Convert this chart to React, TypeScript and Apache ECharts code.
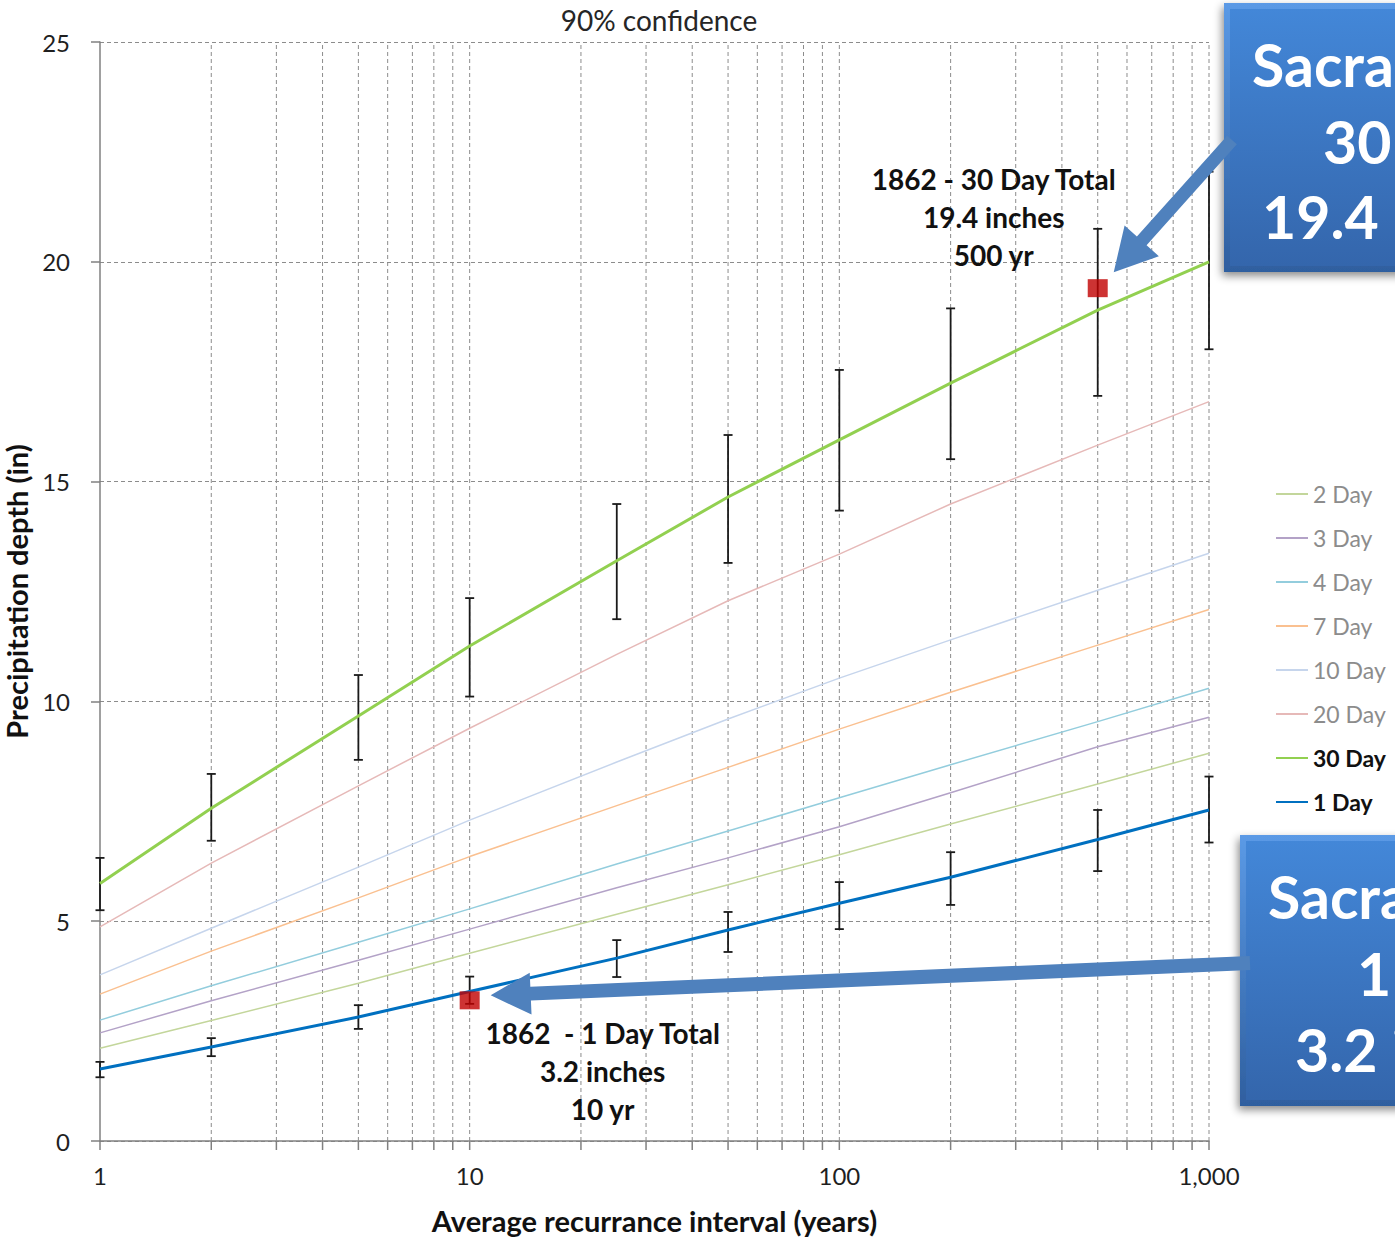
import React, { useEffect, useRef } from "react";
import * as echarts from "echarts";

// Return periods (years) at which depths and confidence limits are tabulated
const returnPeriods = [1, 2, 5, 10, 25, 50, 100, 200, 500, 1000];

// Precipitation depth (inches) by storm duration
const day1 = [1.64, 2.14, 2.82, 3.4, 4.16, 4.8, 5.41, 6.0, 6.86, 7.53];
const day2 = [2.11, 2.74, 3.59, 4.27, 5.16, 5.83, 6.51, 7.21, 8.12, 8.82];
const day3 = [2.46, 3.19, 4.11, 4.82, 5.76, 6.44, 7.15, 7.92, 8.97, 9.64];
const day4 = [2.75, 3.53, 4.52, 5.28, 6.3, 7.05, 7.81, 8.56, 9.54, 10.3];
const day7 = [3.34, 4.32, 5.53, 6.47, 7.63, 8.5, 9.37, 10.21, 11.28, 12.09];
const day10 = [3.78, 4.84, 6.23, 7.3, 8.62, 9.6, 10.53, 11.4, 12.53, 13.37];
const day20 = [4.87, 6.32, 8.08, 9.39, 11.07, 12.29, 13.35, 14.49, 15.83, 16.82];
const day30 = [5.86, 7.57, 9.67, 11.26, 13.2, 14.65, 15.95, 17.24, 18.9, 20.0];

// 90% confidence limits
const day1Low = [1.45, 1.93, 2.55, 3.12, 3.73, 4.3, 4.82, 5.37, 6.14, 6.79];
const day1High = [1.8, 2.34, 3.09, 3.74, 4.57, 5.21, 5.89, 6.57, 7.53, 8.29];
const day30Low = [5.25, 6.83, 8.67, 10.11, 11.87, 13.15, 14.34, 15.51, 16.95, 18.01];
const day30High = [6.44, 8.35, 10.6, 12.35, 14.49, 16.06, 17.54, 18.94, 20.75, 22.05];

// Observed 1862 storm totals: [return period, depth]
const storm1862Day1 = [10, 3.2];
const storm1862Day30 = [500, 19.4];

// Log-axis grid positions (2..9, 20..90, 200..900 and the decades)
const xGridValues = [
  1, 2, 3, 4, 5, 6, 7, 8, 9, 10, 20, 30, 40, 50, 60, 70, 80, 90, 100, 200, 300,
  400, 500, 600, 700, 800, 900, 1000,
];
const xTickLabels: Record<number, string> = { 1: "1", 10: "10", 100: "100", 1000: "1,000" };
const yTicks = { min: 0, max: 25, interval: 5 };

const seriesDefs = [
  { name: "2 Day", data: day2, color: "#c3d69b", width: 1.5, bold: false },
  { name: "3 Day", data: day3, color: "#b3a2c7", width: 1.5, bold: false },
  { name: "4 Day", data: day4, color: "#93cddd", width: 1.5, bold: false },
  { name: "7 Day", data: day7, color: "#fac090", width: 1.5, bold: false },
  { name: "10 Day", data: day10, color: "#c6d5ec", width: 1.5, bold: false },
  { name: "20 Day", data: day20, color: "#e6b9b8", width: 1.5, bold: false },
  { name: "30 Day", data: day30, color: "#92d050", width: 3, bold: true },
  { name: "1 Day", data: day1, color: "#0070c0", width: 3, bold: true },
];

const FONT = "Lato, 'Open Sans', sans-serif";
const GRID_COLOR = "#8c8c8c";
const AXIS_COLOR = "#808080";
const HIDDEN = "rgba(0,0,0,0)";

function arrowPoints(
  tail: number[],
  tip: number[],
  shaft: number,
  headLen: number,
  headW: number
) {
  const dx = tip[0] - tail[0];
  const dy = tip[1] - tail[1];
  const len = Math.hypot(dx, dy);
  const ux = dx / len;
  const uy = dy / len;
  const nx = -uy;
  const ny = ux;
  const bx = tip[0] - ux * headLen;
  const by = tip[1] - uy * headLen;
  const s = shaft / 2;
  const h = headW / 2;
  return [
    [tail[0] + nx * s, tail[1] + ny * s],
    [bx + nx * s, by + ny * s],
    [bx + nx * h, by + ny * h],
    [tip[0], tip[1]],
    [bx - nx * h, by - ny * h],
    [bx - nx * s, by - ny * s],
    [tail[0] - nx * s, tail[1] - ny * s],
  ];
}

function calloutBox(x: number, y: number, w: number, h: number, lines: { text: string; x: number; y: number }[]) {
  return {
    type: "group",
    z: 100,
    children: [
      {
        type: "rect",
        shape: { x, y, width: w, height: h },
        style: {
          fill: new echarts.graphic.LinearGradient(0, 0, 0, 1, [
            { offset: 0, color: "#5b9ae6" },
            { offset: 1, color: "#2f5f9f" },
          ]),
          shadowBlur: 8,
          shadowOffsetX: -2,
          shadowOffsetY: 4,
          shadowColor: "rgba(0,0,0,0.45)",
        },
      },
      {
        type: "rect",
        shape: { x: x + 6, y: y + 6, width: w - 12, height: h - 12 },
        style: {
          fill: new echarts.graphic.LinearGradient(0, 0, 0, 1, [
            { offset: 0, color: "#4387d8" },
            { offset: 1, color: "#3466ac" },
          ]),
        },
      },
      ...lines.map((l) => ({
        type: "text",
        style: {
          text: l.text,
          x: l.x,
          y: l.y,
          fill: "#ffffff",
          font: `bold 59px ${FONT}`,
          textAlign: "left",
          textVerticalAlign: "middle",
        },
      })),
    ],
  };
}

export default function App() {
  const ref = useRef<HTMLDivElement>(null);

  useEffect(() => {
    document.body.style.margin = "0";
    const chart = echarts.init(ref.current!, null, { renderer: "svg" });

    const lineSeries = seriesDefs.map((d) => ({
      name: d.name,
      type: "line",
      data: returnPeriods.map((p, i) => [p, d.data[i]]),
      symbol: "none",
      smooth: false,
      z: d.bold ? 5 : 3,
      lineStyle: { color: d.color, width: d.width },
      itemStyle: { color: d.color },
      silent: true,
    }));

    const errorData = [
      ...returnPeriods.map((p, i) => [p, day30Low[i], day30High[i]]),
      ...returnPeriods.map((p, i) => [p, day1Low[i], day1High[i]]),
    ];

    const option: any = {
      animation: false,
      backgroundColor: "#ffffff",
      textStyle: { fontFamily: FONT },
      title: {
        text: "90% confidence",
        left: 654,
        top: 1,
        textAlign: "center",
        textStyle: { fontFamily: FONT, fontWeight: "normal", fontSize: 28, color: "#262626" },
      },
      grid: { left: 100, right: 186, top: 42, bottom: 100, containLabel: false, outerBoundsMode: "none" },
      xAxis: {
        type: "log",
        logBase: 10,
        min: 1,
        max: 1000,
        name: "Average recurrance interval (years)",
        nameLocation: "middle",
        nameGap: 65,
        nameTextStyle: { fontFamily: FONT, fontWeight: "bold", fontSize: 29, color: "#111" },
        axisLine: { show: true, lineStyle: { color: AXIS_COLOR, width: 1.5 } },
        axisTick: { show: false },
        minorTick: { show: false },
        splitLine: { show: false },
        axisLabel: {
          margin: 22,
          fontFamily: FONT,
          fontSize: 24,
          color: "#1f1f1f",
          formatter: (v: number) => xTickLabels[Math.round(v)] ?? "",
        },
      },
      yAxis: {
        type: "value",
        min: yTicks.min,
        max: yTicks.max,
        interval: yTicks.interval,
        name: "Precipitation depth (in)",
        nameLocation: "middle",
        nameGap: 64,
        nameRotate: 90,
        nameTextStyle: { fontFamily: FONT, fontWeight: "bold", fontSize: 29, color: "#111" },
        axisLine: { show: true, lineStyle: { color: AXIS_COLOR, width: 1.5 } },
        axisTick: { show: true, length: 9, lineStyle: { color: AXIS_COLOR, width: 1.5 } },
        splitLine: { show: true, lineStyle: { color: GRID_COLOR, type: [4, 3], width: 1 } },
        axisLabel: { margin: 30, fontFamily: FONT, fontSize: 24, color: "#1f1f1f" },
      },
      legend: {
        orient: "vertical",
        left: 1270,
        top: 477,
        itemWidth: 32,
        itemHeight: 14,
        itemGap: 20,
        selectedMode: false,
        itemStyle: { color: HIDDEN, borderColor: HIDDEN, borderWidth: 0, opacity: 0 },
        data: seriesDefs.map((d) => ({
          name: d.name,
          itemStyle: { color: HIDDEN, borderColor: HIDDEN, borderWidth: 0, opacity: 0 },
          textStyle: {
            fontFamily: FONT,
            fontSize: 23,
            lineHeight: 24,
            fontWeight: d.bold ? "bold" : "normal",
            color: d.bold ? "#111111" : "#8c8c8c",
          },
        })),
      },
      series: [
        {
          name: "grid",
          type: "custom",
          silent: true,
          clip: false,
          z: 1,
          data: xGridValues.map((v) => [v]),
          encode: { x: 0 },
          renderItem: (_params: any, api: any) => {
            const v = api.value(0);
            const bottom = api.coord([v, yTicks.min]);
            const top = api.coord([v, yTicks.max]);
            const children: any[] = [
              {
                type: "line",
                shape: { x1: bottom[0], y1: bottom[1] + 9, x2: bottom[0], y2: bottom[1] },
                style: { stroke: AXIS_COLOR, lineWidth: 1.5 },
              },
            ];
            if (v > 1) {
              children.push({
                type: "line",
                shape: { x1: bottom[0], y1: bottom[1], x2: top[0], y2: top[1] },
                style: { stroke: GRID_COLOR, lineWidth: 1, lineDash: [4, 3] },
              });
            }
            return { type: "group", children };
          },
        },
        {
          name: "confidence",
          type: "custom",
          silent: true,
          clip: false,
          z: 2,
          data: errorData,
          encode: { x: 0, y: [1, 2] },
          renderItem: (_params: any, api: any) => {
            const x = api.value(0);
            const lo = api.coord([x, api.value(1)]);
            const hi = api.coord([x, api.value(2)]);
            const cap = 4.5;
            const st = { stroke: "#1a1a1a", lineWidth: 1.8 };
            return {
              type: "group",
              children: [
                { type: "line", shape: { x1: lo[0], y1: lo[1], x2: hi[0], y2: hi[1] }, style: st },
                { type: "line", shape: { x1: lo[0] - cap, y1: lo[1], x2: lo[0] + cap, y2: lo[1] }, style: st },
                { type: "line", shape: { x1: hi[0] - cap, y1: hi[1], x2: hi[0] + cap, y2: hi[1] }, style: st },
              ],
            };
          },
        },
        ...lineSeries,
        {
          name: "1862",
          type: "scatter",
          silent: true,
          z: 6,
          symbol: "rect",
          symbolSize: [20, 18],
          itemStyle: { color: "#c00000" },
          data: [storm1862Day1, storm1862Day30],
        },
      ],
    };

    chart.setOption(option);

    // Annotations and callouts, anchored on the 1862 points
    const p30 = chart.convertToPixel({ gridIndex: 0 }, storm1862Day30) as number[];
    const p1 = chart.convertToPixel({ gridIndex: 0 }, storm1862Day1) as number[];

    const arrow30 = arrowPoints([1232, 140], [p30[0] + 16, p30[1] - 16], 13, 42, 46);
    const arrow1 = arrowPoints([1250, 963], [p1[0] + 21, p1[1] - 5], 14, 40, 42);

    chart.setOption({
      graphic: [
        {
          type: "polygon",
          z: 90,
          shape: { points: arrow30 },
          style: { fill: "#4f81bd" },
        },
        {
          type: "polygon",
          z: 90,
          shape: { points: arrow1 },
          style: { fill: "#4f81bd" },
        },
        {
          type: "text",
          z: 80,
          style: {
            text: "1862 - 30 Day Total\n19.4 inches\n500 yr",
            x: p30[0] - 104,
            y: 160,
            font: `bold 28px ${FONT}`,
            lineHeight: 38,
            fill: "#111111",
            textAlign: "center",
            textVerticalAlign: "top",
          },
        },
        {
          type: "text",
          z: 80,
          style: {
            text: "1862  - 1 Day Total\n3.2 inches\n10 yr",
            x: p1[0] + 133,
            y: 1014,
            font: `bold 28px ${FONT}`,
            lineHeight: 38,
            fill: "#111111",
            textAlign: "center",
            textVerticalAlign: "top",
          },
        },
        calloutBox(1224, 3, 380, 269, [
          { text: "Sacramento", x: 1252, y: 64 },
          { text: "30 Day", x: 1323, y: 141 },
          { text: "19.4 inches", x: 1262, y: 216 },
        ]),
        calloutBox(1240, 835, 380, 271, [
          { text: "Sacramento", x: 1268, y: 896 },
          { text: "1 Day", x: 1357, y: 973 },
          { text: "3.2 inches", x: 1295, y: 1049 },
        ]),
      ],
    });

    return () => chart.dispose();
  }, []);

  return <div ref={ref} style={{ width: 1395, height: 1241, overflow: "hidden" }} />;
}
